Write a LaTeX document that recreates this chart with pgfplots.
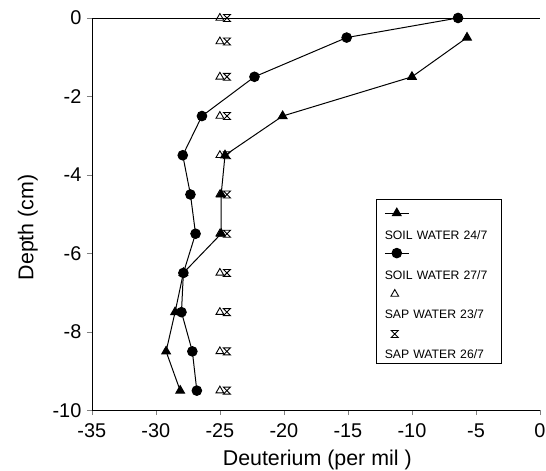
\documentclass[border=0pt]{standalone}
\usepackage{fontspec}
\setmainfont{Liberation Sans}
\usepackage{pgfplots}
\usepackage{pgfplotstable}
\pgfplotsset{compat=1.18}

% hourglass marker for the sap water series
\pgfdeclareplotmark{hourglass}{%
  \pgfpathmoveto{\pgfqpoint{-\pgfplotmarksize}{\pgfplotmarksize}}%
  \pgfpathlineto{\pgfqpoint{\pgfplotmarksize}{\pgfplotmarksize}}%
  \pgfpathlineto{\pgfqpoint{-\pgfplotmarksize}{-\pgfplotmarksize}}%
  \pgfpathlineto{\pgfqpoint{\pgfplotmarksize}{-\pgfplotmarksize}}%
  \pgfpathclose
  \pgfusepathqstroke}

% legend images sit above their text (overlay, so they take no width)
\pgfplotsset{
  lineleg/.style={legend image code/.code={\draw[overlay,mark repeat=2,mark phase=2,##1]
        plot coordinates {(0bp,8bp) (12bp,8bp) (24bp,8bp)};}},
  markleg/.style={legend image code/.code={\draw[overlay,##1]
        plot coordinates {(10bp,7bp)};}},
}

\pgfplotstableread{
x y
-5.7 -0.5
-10.0 -1.5
-20.1 -2.5
-24.6 -3.5
-24.9 -4.5
-24.9 -5.5
-27.85 -6.5
-28.5 -7.5
-29.2 -8.5
-28.1 -9.5
}\soilA

\pgfplotstableread{
x y
-6.4 0
-15.1 -0.5
-22.3 -1.5
-26.4 -2.5
-27.9 -3.5
-27.3 -4.5
-26.9 -5.5
-27.85 -6.5
-28.0 -7.5
-27.15 -8.5
-26.8 -9.5
}\soilB

\pgfplotstableread{
x y
-25.0 0
-25.0 -0.6
-25.0 -1.5
-25.0 -2.5
-25.0 -3.5
-25.0 -4.5
-25.0 -5.5
-25.0 -6.5
-25.0 -7.5
-25.0 -8.5
-25.0 -9.5
}\sapA

\pgfplotstableread{
x y
-24.45 0
-24.45 -0.6
-24.45 -1.5
-24.45 -2.5
-24.45 -3.5
-24.45 -4.5
-24.45 -5.5
-24.45 -6.5
-24.45 -7.5
-24.45 -8.5
-24.45 -9.5
}\sapB

\begin{document}
\begin{tikzpicture}
\begin{axis}[
    name=ax,
    scale only axis,
    width=449bp, height=393bp,
    xmin=-35, xmax=0, ymin=-10, ymax=0,
    xtick={-35,-30,...,0},
    ytick={-10,-8,...,0},
    axis x line*=box, axis y line*=left,
    xtick pos=left,
    tick align=outside,
    major tick length=5bp,
    every axis plot/.append style={line width=1bp},
    /pgf/number format/assume math mode=true,
    ticklabel style={font=\fontsize{20}{22}\selectfont},
    xticklabel style={yshift=-5bp},
    yticklabel style={xshift=-2bp},
    xlabel={Deuterium (per mil )},
    ylabel={Depth (cm)},
    label style={font=\fontsize{21.5}{25}\selectfont},
    xlabel style={at={(axis description cs:0.503,-0.127)}, anchor=center},
    ylabel style={at={(axis description cs:-0.143,0.466)}, anchor=center},
    clip=false,
    legend columns=1,
    legend cell align=left,
    legend style={at={(axis description cs:0.635,0.539)}, anchor=north west,
        draw=black, line width=0.8bp, inner xsep=8bp, inner ysep=2bp,
        row sep=0bp, column sep=0bp,
        nodes={inner sep=0bp, text height=38bp, text depth=2bp, text width=109bp},
        font=\fontsize{12.3}{15}\selectfont},
]
\addplot[black, mark=triangle*, mark size=5bp, lineleg] table {\soilA};
\addlegendentry{SOIL WATER 24/7}
\addplot[black, mark=*, mark size=4.8bp, lineleg] table {\soilB};
\addlegendentry{SOIL WATER 27/7}
\addplot[black, only marks, mark=triangle, mark size=4.5bp, line width=0.9bp, markleg] table {\sapA};
\addlegendentry{SAP WATER 23/7}
\addplot[black, only marks, mark=hourglass, mark size=3.5bp, line width=0.9bp, markleg] table {\sapB};
\addlegendentry{SAP WATER 26/7}
\end{axis}
\pgfresetboundingbox
\path ([shift={(-92bp,-60bp)}]ax.south west) rectangle ([shift={(6bp,18bp)}]ax.north east);
\end{tikzpicture}
\end{document}
